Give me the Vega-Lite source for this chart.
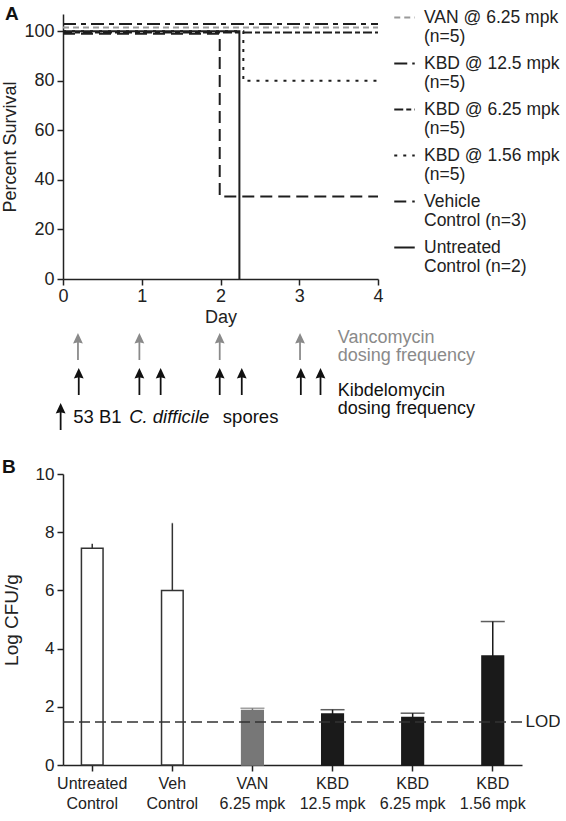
{
  "$schema": "https://vega.github.io/schema/vega-lite/v6.json",
  "background": "white",
  "padding": {"left": 1, "top": 5, "right": 0, "bottom": 2},
  "config": {
    "font": "Liberation Sans",
    "view": {"stroke": null},
    "axis": {"grid": false, "domainColor": "#222", "domainWidth": 1.5, "tickColor": "#222", "tickWidth": 1.5, "tickSize": 6, "labelColor": "#222", "titleColor": "#222", "titleFontWeight": "normal", "labelFont": "Liberation Sans", "titleFont": "Liberation Sans"},
    "legend": {"labelFont": "Liberation Sans"}
  },
  "datasets": {
    "surv": [
      {"group": "VAN @ 6.25 mpk|(n=5)", "day": 0, "pct": 101.5},
      {"group": "VAN @ 6.25 mpk|(n=5)", "day": 4, "pct": 101.5},
      {"group": "KBD @ 12.5 mpk|(n=5)", "day": 0, "pct": 103},
      {"group": "KBD @ 12.5 mpk|(n=5)", "day": 4, "pct": 103},
      {"group": "KBD @ 6.25 mpk|(n=5)", "day": 0, "pct": 99.5},
      {"group": "KBD @ 6.25 mpk|(n=5)", "day": 4, "pct": 99.5},
      {"group": "KBD @ 1.56 mpk|(n=5)", "day": 0, "pct": 100},
      {"group": "KBD @ 1.56 mpk|(n=5)", "day": 2.29, "pct": 80},
      {"group": "KBD @ 1.56 mpk|(n=5)", "day": 4, "pct": 80},
      {"group": "Vehicle|Control (n=3)", "day": 0, "pct": 99},
      {"group": "Vehicle|Control (n=3)", "day": 1.99, "pct": 33.3},
      {"group": "Vehicle|Control (n=3)", "day": 4, "pct": 33.3},
      {"group": "Untreated|Control (n=2)", "day": 0, "pct": 100},
      {"group": "Untreated|Control (n=2)", "day": 2.24, "pct": 0}
    ],
    "doses": [
      {"row": "Vancomycin", "day": 0.19},
      {"row": "Vancomycin", "day": 0.97},
      {"row": "Vancomycin", "day": 1.99},
      {"row": "Vancomycin", "day": 3.01},
      {"row": "Kibdelomycin", "day": 0.2},
      {"row": "Kibdelomycin", "day": 0.97},
      {"row": "Kibdelomycin", "day": 1.24},
      {"row": "Kibdelomycin", "day": 1.99},
      {"row": "Kibdelomycin", "day": 2.27},
      {"row": "Kibdelomycin", "day": 3.02},
      {"row": "Kibdelomycin", "day": 3.27},
      {"row": "Spores", "day": -0.03}
    ],
    "notes": [
      {"row": "Vancomycin", "day": 3.49, "label": "Vancomycin|dosing frequency"},
      {"row": "Kibdelomycin", "day": 3.49, "label": "Kibdelomycin|dosing frequency"},
      {"row": "Spores", "day": 0.13, "label": "53 B1"},
      {"row": "Spores", "day": 0.84, "label": "C. difficile"},
      {"row": "Spores", "day": 2.03, "label": "spores"}
    ],
    "cfu": [
      {"group": "Untreated|Control", "mean": 7.45, "upper": 7.62},
      {"group": "Veh|Control", "mean": 6.0, "upper": 8.33},
      {"group": "VAN|6.25 mpk", "mean": 1.87, "upper": 1.95},
      {"group": "KBD|12.5 mpk", "mean": 1.75, "upper": 1.9},
      {"group": "KBD|6.25 mpk", "mean": 1.63, "upper": 1.78},
      {"group": "KBD|1.56 mpk", "mean": 3.75, "upper": 4.93}
    ],
    "lod": [{"label": "LOD", "value": 1.48}],
    "panelA": [{"label": "A"}]
  },
  "concat": [
    {
      "vconcat": [
        {
          "width": 315,
          "height": 265,
          "layer": [
            {
              "data": {"name": "surv"},
              "mark": {"type": "line", "interpolate": "step-after", "strokeWidth": 2, "strokeCap": "butt"},
              "encoding": {
                "x": {"field": "day", "type": "quantitative", "scale": {"domain": [0, 4], "nice": false, "zero": false},
                  "axis": {"values": [0, 1, 2, 3, 4], "format": "d", "title": "Day", "labelFontSize": 18, "titleFontSize": 18, "titlePadding": 3, "labelPadding": 2, "labelFlush": false}},
                "y": {"field": "pct", "type": "quantitative", "scale": {"domain": [0, 107], "nice": false},
                  "axis": {"values": [0, 20, 40, 60, 80, 100], "title": "Percent Survival", "labelFontSize": 18, "titleFontSize": 18, "titlePadding": 4, "labelPadding": 3}},
                "color": {"field": "group", "type": "nominal",
                  "scale": {"domain": ["VAN @ 6.25 mpk|(n=5)", "KBD @ 12.5 mpk|(n=5)", "KBD @ 6.25 mpk|(n=5)", "KBD @ 1.56 mpk|(n=5)", "Vehicle|Control (n=3)", "Untreated|Control (n=2)"],
                    "range": ["#9a9a9a", "#1e1e1e", "#1e1e1e", "#1e1e1e", "#1e1e1e", "#1e1e1e"]},
                  "legend": {"title": null, "orient": "none", "legendX": 330, "legendY": -8, "padding": 0, "symbolType": "stroke", "symbolSize": 420, "symbolStrokeWidth": 2, "labelFontSize": 17.5, "labelColor": "#222", "labelOffset": 8, "labelLimit": 250, "rowPadding": 6, "labelExpr": "split(datum.label, '|')", "labelBaseline": "middle"}},
                "strokeDash": {"field": "group", "type": "nominal",
                  "scale": {"domain": ["VAN @ 6.25 mpk|(n=5)", "KBD @ 12.5 mpk|(n=5)", "KBD @ 6.25 mpk|(n=5)", "KBD @ 1.56 mpk|(n=5)", "Vehicle|Control (n=3)", "Untreated|Control (n=2)"],
                    "range": [[6, 4], [13, 5, 5, 5], [9, 3, 5, 3], [3, 6], [12, 6], [1, 0]]},
                  "legend": {"title": null, "orient": "none", "legendX": 330, "legendY": -8, "padding": 0, "symbolType": "stroke", "symbolSize": 420, "symbolStrokeWidth": 2, "labelFontSize": 17.5, "labelColor": "#222", "labelOffset": 8, "labelLimit": 250, "rowPadding": 6, "labelExpr": "split(datum.label, '|')", "labelBaseline": "middle"}}
              }
            },
            {
              "data": {"name": "panelA"},
              "mark": {"type": "text", "fontSize": 19, "fontWeight": "bold", "align": "center", "baseline": "middle", "color": "#111"},
              "encoding": {"x": {"datum": -0.65}, "y": {"datum": 107}, "text": {"field": "label"}}
            }
          ]
        },
        {
          "width": 315,
          "height": 105,
          "layer": [
            {
              "data": {"name": "doses"},
              "mark": {"type": "point", "shape": "M0,-1L0.36,-0.22L0.065,-0.3L0.065,1L-0.065,1L-0.065,-0.3L-0.36,-0.22Z", "size": 740, "filled": true, "opacity": 1, "strokeWidth": 0},
              "encoding": {
                "x": {"field": "day", "type": "quantitative", "scale": {"domain": [0, 4], "nice": false, "zero": false}, "axis": null},
                "y": {"field": "row", "type": "ordinal", "scale": {"domain": ["Vancomycin", "Kibdelomycin", "Spores"]}, "axis": null},
                "color": {"field": "row", "type": "nominal", "scale": {"domain": ["Vancomycin", "Kibdelomycin", "Spores"], "range": ["#8a8a8a", "#111111", "#111111"]}, "legend": null}
              }
            },
            {
              "data": {"name": "notes"},
              "transform": [{"filter": "datum.row === 'Vancomycin'"}],
              "mark": {"type": "text", "align": "left", "baseline": "bottom", "fontSize": 18, "lineBreak": "|", "lineHeight": 18, "color": "#8a8a8a"},
              "encoding": {"x": {"field": "day", "type": "quantitative"}, "y": {"field": "row", "type": "ordinal"}, "text": {"field": "label"}}
            },
            {
              "data": {"name": "notes"},
              "transform": [{"filter": "datum.row === 'Kibdelomycin'"}],
              "mark": {"type": "text", "align": "left", "baseline": "top", "fontSize": 18, "lineBreak": "|", "lineHeight": 18, "color": "#111"},
              "encoding": {"x": {"field": "day", "type": "quantitative"}, "y": {"field": "row", "type": "ordinal"}, "text": {"field": "label"}}
            },
            {
              "data": {"name": "notes"},
              "transform": [{"filter": "datum.row === 'Spores' && datum.label !== 'C. difficile'"}],
              "mark": {"type": "text", "align": "left", "baseline": "middle", "fontSize": 18.5, "color": "#111"},
              "encoding": {"x": {"field": "day", "type": "quantitative"}, "y": {"field": "row", "type": "ordinal"}, "text": {"field": "label"}}
            },
            {
              "data": {"name": "notes"},
              "transform": [{"filter": "datum.label === 'C. difficile'"}],
              "mark": {"type": "text", "align": "left", "baseline": "middle", "fontSize": 18.5, "fontStyle": "italic", "color": "#111"},
              "encoding": {"x": {"field": "day", "type": "quantitative"}, "y": {"field": "row", "type": "ordinal"}, "text": {"field": "label"}}
            }
          ]
        }
      ],
      "spacing": 2,
      "resolve": {"scale": {"color": "independent", "strokeDash": "independent"}, "legend": {"color": "independent", "strokeDash": "independent"}}
    },
    {
      "width": 459,
      "height": 291,
      "title": {"text": "B", "anchor": "start", "frame": "bounds", "fontSize": 19, "fontWeight": "bold", "offset": -12, "color": "#111"},
      "layer": [
        {
          "data": {"name": "cfu"},
          "mark": {"type": "bar", "strokeWidth": 1.5},
          "encoding": {
            "x": {"field": "group", "type": "nominal", "sort": null,
              "scale": {"domain": ["Untreated|Control", "Veh|Control", "VAN|6.25 mpk", "KBD|12.5 mpk", "KBD|6.25 mpk", "KBD|1.56 mpk"], "paddingInner": 0.73, "paddingOuter": 0.23},
              "axis": {"title": null, "labelAngle": 0, "labelExpr": "split(datum.label, '|')", "labelFontSize": 16, "labelLineHeight": 20, "labelPadding": 4, "tickSize": 6}},
            "y": {"field": "mean", "type": "quantitative", "scale": {"domain": [0, 10], "nice": false},
              "axis": {"values": [0, 2, 4, 6, 8, 10], "title": "Log CFU/g", "titleFontSize": 19, "labelFontSize": 17, "titlePadding": 14, "labelPadding": 3}},
            "fill": {"field": "group", "type": "nominal", "scale": {"domain": ["Untreated|Control", "Veh|Control", "VAN|6.25 mpk", "KBD|12.5 mpk", "KBD|6.25 mpk", "KBD|1.56 mpk"], "range": ["#ffffff", "#ffffff", "#777777", "#1a1a1a", "#1a1a1a", "#1a1a1a"]}, "legend": null},
            "stroke": {"field": "group", "type": "nominal", "scale": {"domain": ["Untreated|Control", "Veh|Control", "VAN|6.25 mpk", "KBD|12.5 mpk", "KBD|6.25 mpk", "KBD|1.56 mpk"], "range": ["#333333", "#333333", "#777777", "#1a1a1a", "#1a1a1a", "#1a1a1a"]}, "legend": null}
          }
        },
        {
          "data": {"name": "cfu"},
          "mark": {"type": "rule", "strokeWidth": 1.5},
          "encoding": {
            "x": {"field": "group", "type": "nominal"},
            "y": {"field": "mean", "type": "quantitative", "axis": null},
            "y2": {"field": "upper"},
            "stroke": {"field": "group", "type": "nominal", "legend": null}
          }
        },
        {
          "data": {"name": "cfu"},
          "mark": {"type": "tick", "orient": "horizontal", "size": 24, "thickness": 1.5},
          "encoding": {
            "x": {"field": "group", "type": "nominal"},
            "y": {"field": "upper", "type": "quantitative", "axis": null},
            "fill": {"field": "group", "type": "nominal", "legend": null}
          }
        },
        {
          "data": {"name": "lod"},
          "mark": {"type": "rule", "strokeDash": [11, 5], "strokeWidth": 1.5, "color": "#333"},
          "encoding": {
            "y": {"field": "value", "type": "quantitative",
              "axis": {"orient": "right", "values": [1.48], "labelExpr": "'LOD'", "domain": false, "ticks": false, "title": null, "labelFontSize": 17, "labelPadding": 3}}
          }
        }
      ],
      "resolve": {"axis": {"y": "independent"}}
    }
  ],
  "columns": 1,
  "align": "none",
  "spacing": 24,
  "resolve": {"scale": {"color": "independent", "strokeDash": "independent", "fill": "independent", "stroke": "independent"}, "legend": {"color": "independent", "strokeDash": "independent", "fill": "independent", "stroke": "independent"}}
}
